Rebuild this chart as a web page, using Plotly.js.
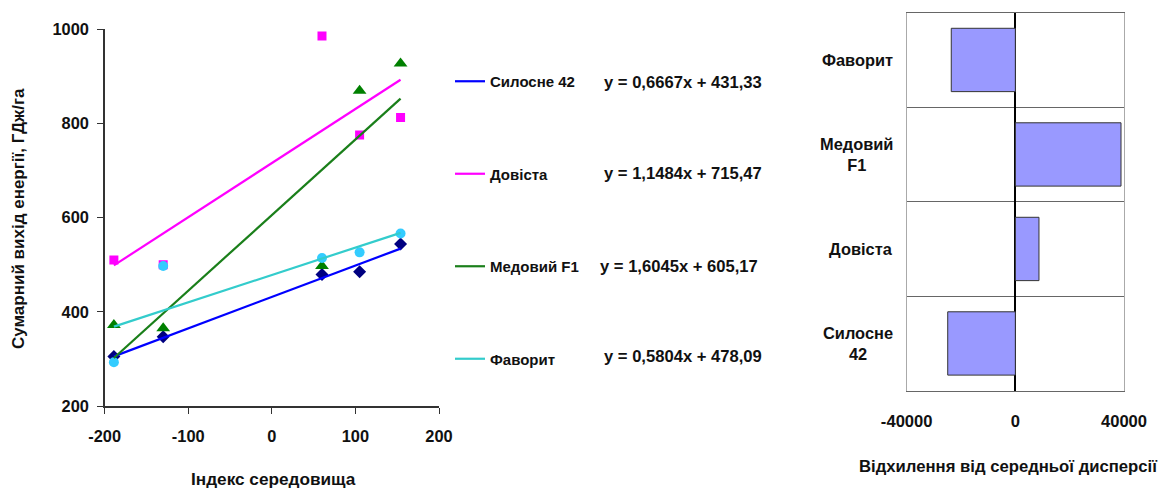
<!DOCTYPE html>
<html>
<head>
<meta charset="utf-8">
<script src="https://cdn.plot.ly/plotly-3.0.1.min.js"></script>
<style>html,body{margin:0;padding:0;background:#fff;}#chart{width:1163px;height:489px;}</style>
</head>
<body>
<div id="chart"></div>
<script>
// ---- Data: left chart (environment index vs energy yield) ----
const envIndex = [-189, -130, 60, 105, 154];
const seriesNames = ["Силосне 42", "Довіста", "Медовий F1", "Фаворит"];
const silosne42 = [305, 347, 479, 485, 544];
const dovista = [510, 500, 985, 775, 812];
const medovyF1 = [372, 365, 497, 869, 927];
const favoryt = [293, 497, 514, 526, 566];
const slopes = [0.6667, 1.1484, 1.6045, 0.5804];
const intercepts = [431.33, 715.47, 605.17, 478.09];
const equations = ["y = 0,6667x + 431,33", "y = 1,1484x + 715,47", "y = 1,6045x + 605,17", "y = 0,5804x + 478,09"];

// ---- Data: right chart (deviation from mean variance) ----
const barCategories = ["Силосне 42", "Довіста", "Медовий F1", "Фаворит"];
const barLabels = ["Силосне<br>42", "Довіста", "Медовий<br>F1", "Фаворит"];
const barValues = [-24900, 8700, 38900, -23600];

const leftXTicks = [-200, -100, 0, 100, 200];
const leftYTicks = [200, 400, 600, 800, 1000];
const rightXTicks = [-40000, 0, 40000];

// ---- Styles ----
const FONT = "Liberation Sans, Arial, sans-serif";
const markerSymbols = ["diamond", "square", "triangle-up", "circle"];
const markerSizes = [10, 9, 12, 10];
const markerColors = ["#000080", "#FF00FF", "#008000", "#33CCFF"];
const lineColors = ["#0000FF", "#FF00FF", "#1A7F1A", "#33CCCC"];
const seriesValues = [silosne42, dovista, medovyF1, favoryt];

const traces = [];
seriesValues.forEach((vals, i) => {
  traces.push({
    type: "scatter", mode: "markers", x: envIndex, y: vals,
    xaxis: "x", yaxis: "y", showlegend: false, hoverinfo: "x+y",
    marker: {symbol: markerSymbols[i], size: markerSizes[i], color: markerColors[i]}
  });
});
const xMin = Math.min(...envIndex), xMax = Math.max(...envIndex);
seriesValues.forEach((vals, i) => {
  traces.push({
    type: "scatter", mode: "lines", name: seriesNames[i], legendgroup: "g" + i,
    x: [xMin, xMax], y: [slopes[i] * xMin + intercepts[i], slopes[i] * xMax + intercepts[i]],
    xaxis: "x", yaxis: "y",
    line: {color: lineColors[i], width: 2.2}
  });
});
traces.push({
  type: "bar", orientation: "h", x: barValues, y: barCategories,
  xaxis: "x2", yaxis: "y2", showlegend: false,
  marker: {color: "#9999FF", line: {color: "#333333", width: 1}}
});

const W = 1163, H = 489;
const px = v => v / W;
const py = v => 1 - v / H;

const boldFont = (size) => ({family: FONT, size: size, color: "#111", weight: "bold"});

const annotations = [];
// equations
const eqX = [602, 602, 598, 602];
const rowY = [82, 174, 266, 356];
equations.forEach((t, i) => {
  annotations.push({
    text: t, xref: "paper", yref: "paper", x: px(eqX[i]), y: py(rowY[i]),
    xanchor: "left", yanchor: "middle", showarrow: false, font: boldFont(16.6)
  });
});
// bar category labels
barCategories.forEach((c, i) => {
  annotations.push({
    text: barLabels[i], xref: "paper", yref: "y2", x: px(895), y: c,
    xanchor: "right", yanchor: "middle", align: "center", showarrow: false, font: boldFont(16.4)
  });
});
// axis titles
annotations.push({text: "Індекс середовища", xref: "paper", yref: "paper", x: px(273), y: py(479),
  xanchor: "center", yanchor: "middle", showarrow: false, font: boldFont(17.2)});
annotations.push({text: "Сумарний вихід енергії, ГДж/га", xref: "paper", yref: "paper", x: px(18), y: py(219),
  xanchor: "center", yanchor: "middle", textangle: -90, showarrow: false, font: boldFont(17)});
annotations.push({text: "Відхилення від середньої дисперсії", xref: "paper", yref: "paper", x: px(1008), y: py(466),
  xanchor: "center", yanchor: "middle", showarrow: false, font: boldFont(16.7)});

const layout = {
  width: W, height: H,
  margin: {l: 0, r: 0, t: 0, b: 0},
  paper_bgcolor: "#fff", plot_bgcolor: "rgba(0,0,0,0)",
  font: {family: FONT, color: "#111"},
  showlegend: true,
  legend: {
    x: px(450), y: py(65), xanchor: "left", yanchor: "top",
    tracegroupgap: 70, font: boldFont(15), bgcolor: "rgba(0,0,0,0)",
    itemwidth: 30, traceorder: "grouped"
  },
  xaxis: {
    domain: [px(104.7), px(439)], anchor: "y", range: [-200, 200],
    tickvals: leftXTicks, ticktext: leftXTicks.map(String),
    ticks: "outside", ticklen: 6, tickcolor: "#333", showline: true, linecolor: "#333", linewidth: 1.5,
    showgrid: false, zeroline: false, tickfont: boldFont(16.4), ticklabelstandoff: 9
  },
  yaxis: {
    domain: [py(406), py(29)], anchor: "x", range: [200, 1000],
    tickvals: leftYTicks, ticktext: leftYTicks.map(String),
    ticks: "outside", ticklen: 6, tickcolor: "#333", showline: true, linecolor: "#333", linewidth: 1.5,
    showgrid: false, zeroline: false, tickfont: boldFont(16.4), ticklabelstandoff: 5
  },
  xaxis2: {
    domain: [px(906.7), px(1124)], anchor: "y2", range: [-40000, 40000],
    tickvals: rightXTicks, ticktext: rightXTicks.map(String),
    ticks: "", showline: true, mirror: true, linecolor: "#666", linewidth: 1,
    showgrid: true, gridcolor: "#AAAAAA", gridwidth: 1,
    zeroline: true, zerolinecolor: "#000", zerolinewidth: 2,
    tickfont: boldFont(16.6), ticklabelstandoff: 15
  },
  yaxis2: {
    domain: [py(390.7), py(12.7)], anchor: "x2", type: "category",
    categoryorder: "array", categoryarray: barCategories, range: [-0.5, 3.5],
    showticklabels: false, ticks: "", tickson: "boundaries",
    showgrid: true, gridcolor: "#666", gridwidth: 1,
    showline: true, mirror: true, linecolor: "#AAAAAA", linewidth: 1
  },
  bargap: 0.33,
  annotations: annotations
};

Plotly.newPlot("chart", traces, layout, {displayModeBar: false, staticPlot: true});
</script>
</body>
</html>
